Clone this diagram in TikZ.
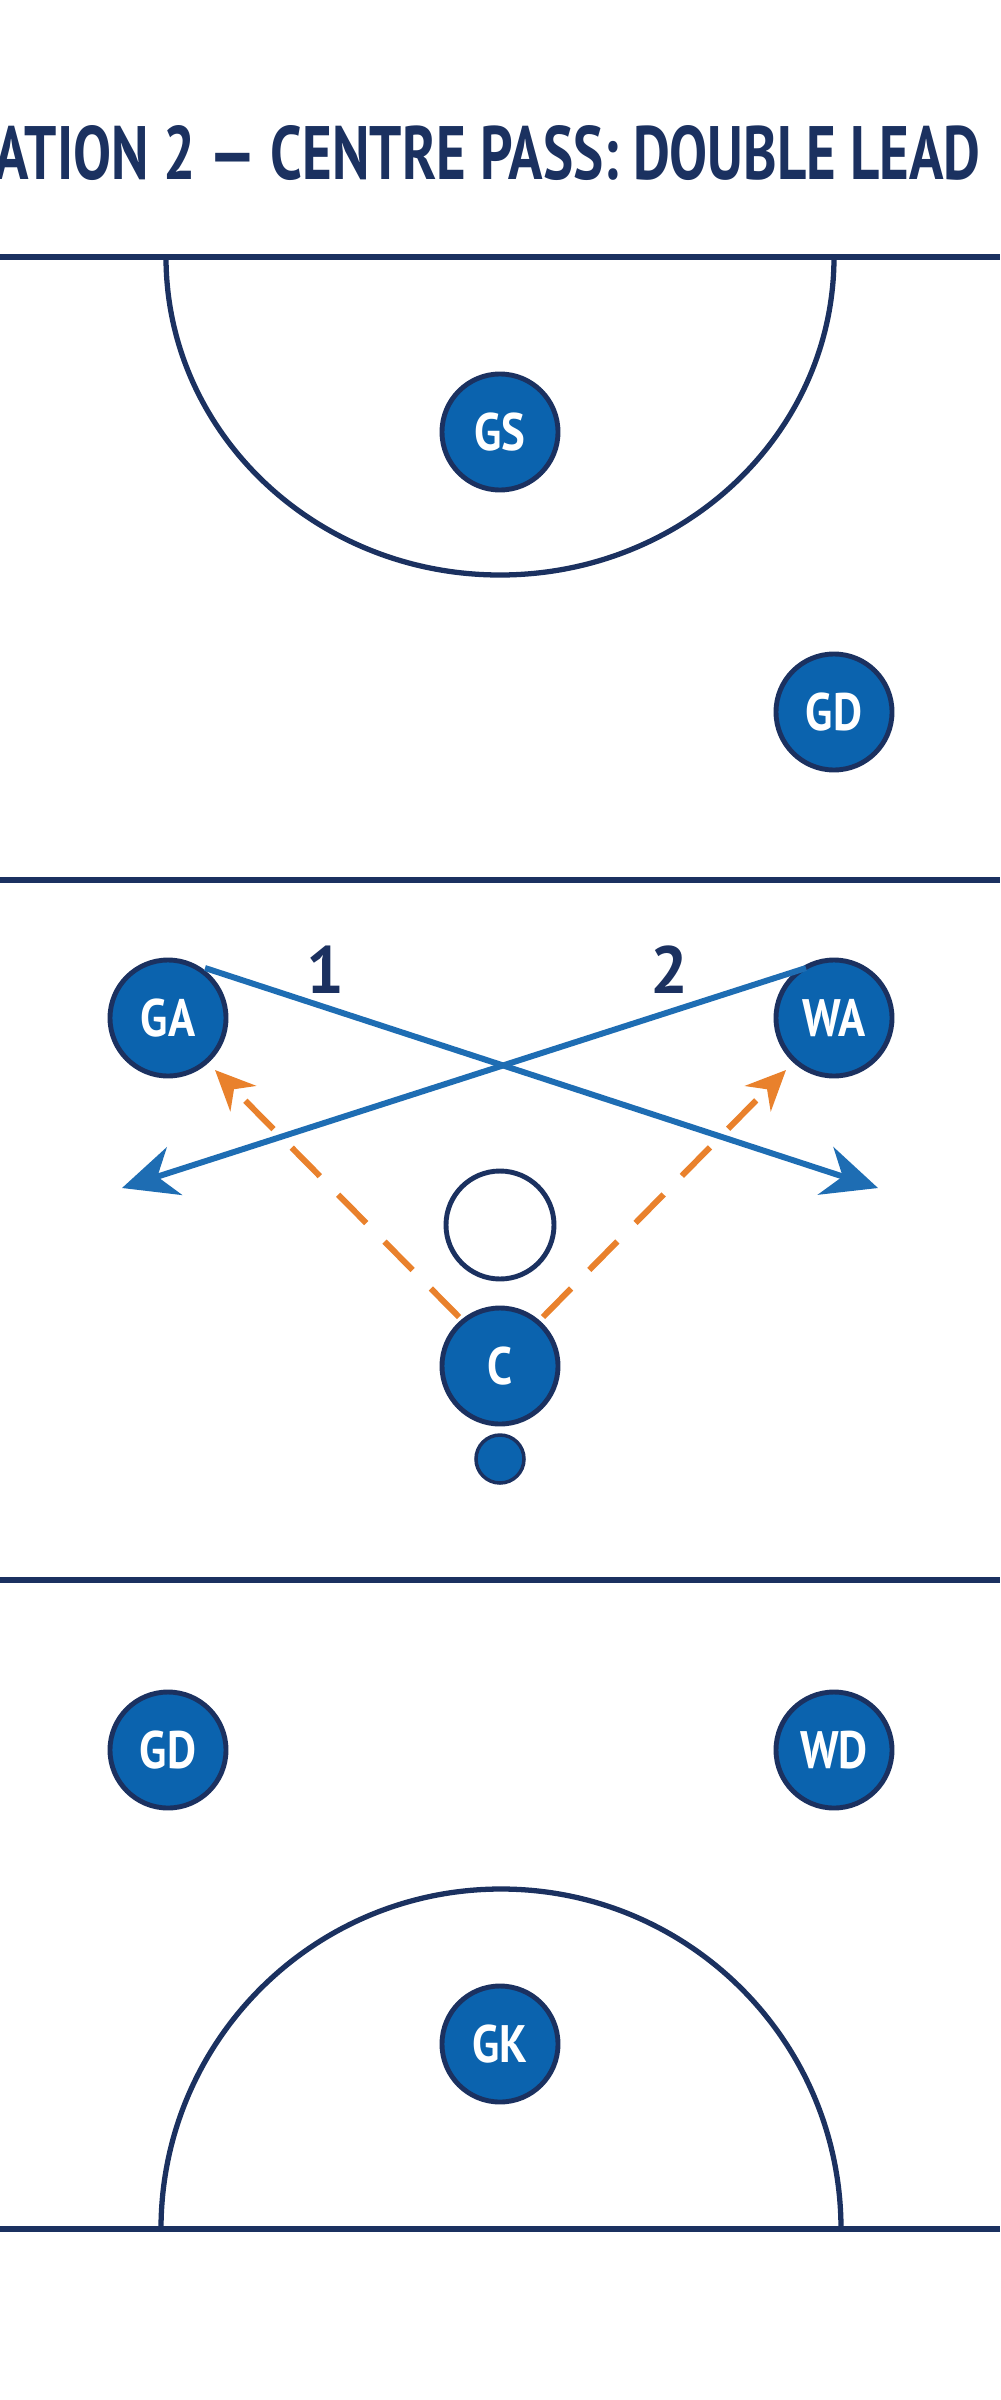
\documentclass[tikz,border=0pt]{standalone}
\usepackage{fontspec}
\usepackage{graphicx}
\setmainfont{PT Sans}
\usetikzlibrary{arrows.meta}
\definecolor{navy}{HTML}{1B3160}
\definecolor{pblue}{HTML}{0B63AE}
\definecolor{ablue}{HTML}{1E6DB3}
\definecolor{aorange}{HTML}{E9812C}
\begin{document}
\begin{tikzpicture}[x=0.1mm,y=-0.1mm,
  court/.style={navy,line width=1.5pt},
  player/.style={circle,fill=pblue,draw=navy,line width=1.4pt,minimum size=11.6mm,inner sep=0pt,text=white,font=\bfseries\fontsize{15}{15}\selectfont},
  run/.style={ablue,line width=1.7pt,-{Stealth[length=5.5mm,width=5mm]}},
  pass/.style={aorange,line width=1.7pt,dash pattern=on 4mm off 2.6mm,-{Stealth[length=4mm,width=3.6mm]}},
  num/.style={navy,font=\bfseries\fontsize{19}{19}\selectfont}]
\useasboundingbox (0,0) rectangle (1000,2400);
\fill[white] (0,0) rectangle (1000,2400);
\node[navy,anchor=west,inner sep=0pt,font=\bfseries] (title) at (-6,153) {\resizebox{9.86cm}{5.4mm}{ATION 2 — CENTRE PASS: DOUBLE LEAD}};
\draw[court] (0,257) -- (1000,257);
\draw[court] (0,880) -- (1000,880);
\draw[court] (0,1580) -- (1000,1580);
\draw[court] (0,2229) -- (1000,2229);
\draw[court] (166,257) arc[start angle=180,end angle=0,x radius=334,y radius=318];
\draw[court] (161,2229) arc[start angle=180,end angle=360,radius=340];
\newcommand{\pl}[1]{\scalebox{0.85}[1]{#1}}
\node[player] (GS) at (500,432) {\pl{GS}};
\node[player] (GD1) at (834,712) {\pl{GD}};
\node[player] (GA) at (168,1018) {\pl{GA}};
\node[player] (WA) at (834,1018) {\pl{WA}};
\node[player] (C) at (500,1366) {\pl{C}};
\node[circle,draw=navy,line width=1.4pt,minimum size=10.8mm,fill=white] (spot) at (500,1225) {};
\node[circle,fill=pblue,draw=navy,line width=1pt,minimum size=4.8mm,inner sep=0pt] (ball) at (500,1459) {};
\node[player] (GD2) at (168,1750) {\pl{GD}};
\node[player] (WD) at (834,1750) {\pl{WD}};
\node[player] (GK) at (500,2044) {\pl{GK}};
\coordinate (s1) at (205,968); \coordinate (e1) at (878,1188);
\coordinate (s2) at (806,968); \coordinate (e2) at (122,1188);
\draw[run] (s1) -- (e1);
\draw[run] (s2) -- (e2);
\node[num] (n1) at (325,970) {1};
\node[num] (n2) at (669,970) {2};
\coordinate (o1) at (459,1317); \coordinate (t1) at (215,1070);
\coordinate (o2) at (543,1317); \coordinate (t2) at (786,1070);
\draw[pass] (o1) -- (t1);
\draw[pass] (o2) -- (t2);
\end{tikzpicture}
\end{document}
